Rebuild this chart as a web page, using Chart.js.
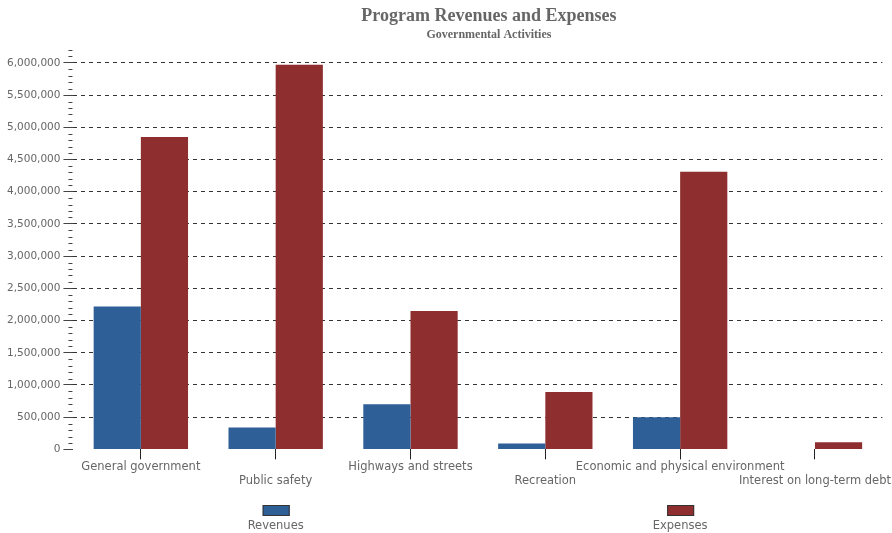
<!DOCTYPE html>
<html>
<head>
<meta charset="utf-8">
<title>Program Revenues and Expenses</title>
<script src="https://cdn.jsdelivr.net/npm/chart.js@4/dist/chart.umd.min.js"></script>
<style>
  html, body { margin: 0; padding: 0; background: #fff; }
  #wrap { width: 892px; height: 533px; }
</style>
</head>
<body>
<div id="wrap"><canvas id="myChart"></canvas></div>
<script>
const categories = [
  "General government",
  "Public safety",
  "Highways and streets",
  "Recreation",
  "Economic and physical environment",
  "Interest on long-term debt"
];
const revenues = [2220000, 340000, 700000, 90000, 500000, 0];
const expenses = [4850000, 5970000, 2150000, 890000, 4310000, 110000];
const seriesNames = ["Revenues", "Expenses"];
const titleText = "Program Revenues and Expenses";
const subtitleText = "Governmental Activities";

const blue = "#2f5f97";
const red = "#8f2e2e";

// odd categories drop to a second row, like the original
const xLabels = categories.map((c, i) => (i % 2 === 1 ? ["", c] : [c]));

const headerAndLegend = {
  id: "headerAndLegend",
  afterDraw(chart) {
    const ctx = chart.ctx;
    const area = chart.chartArea;
    const mid = (area.left + area.right) / 2 + 11;
    ctx.save();
    ctx.fillStyle = "#666";
    ctx.textAlign = "center";
    ctx.textBaseline = "middle";
    ctx.font = "bold 18px 'Liberation Serif', serif";
    ctx.fillText(titleText, mid, 16);
    ctx.font = "bold 12px 'Liberation Serif', serif";
    ctx.fillText(subtitleText, mid, 35);

    // minor ticks on the y axis
    const y = chart.scales.y;
    ctx.strokeStyle = "#444";
    ctx.lineWidth = 1;
    for (let v = 0; v <= y.max; v += 100000) {
      if (v % 500000 === 0) continue;
      const py = Math.round(y.getPixelForValue(v)) + 0.5;
      ctx.beginPath();
      ctx.moveTo(area.left - 5, py);
      ctx.lineTo(area.left - 1, py);
      ctx.stroke();
    }

    // legend: swatch above label, one per half of the plot
    const half = (area.right - area.left) / 2;
    chart.data.datasets.forEach((ds, i) => {
      const cx = area.left + half * i + half / 2;
      ctx.fillStyle = ds.backgroundColor;
      ctx.fillRect(cx - 13, 505, 27, 11);
      ctx.strokeStyle = "#333";
      ctx.strokeRect(cx - 12.5, 505.5, 26, 10);
      ctx.fillStyle = "#666";
      ctx.font = "11.5px 'DejaVu Sans', sans-serif";
      ctx.fillText(ds.label, cx, 526);
    });
    ctx.restore();
  }
};

new Chart(document.getElementById("myChart"), {
  type: "bar",
  data: {
    labels: xLabels,
    datasets: [
      {
        label: seriesNames[0],
        data: revenues,
        backgroundColor: blue,
        borderWidth: 0,
        categoryPercentage: 0.7,
        barPercentage: 1.0
      },
      {
        label: seriesNames[1],
        data: expenses,
        backgroundColor: red,
        borderWidth: 0,
        categoryPercentage: 0.7,
        barPercentage: 1.0
      }
    ]
  },
  options: {
    responsive: true,
    maintainAspectRatio: false,
    animation: false,
    layout: { padding: { top: 50, bottom: 44, left: 4, right: 0 } },
    plugins: {
      legend: { display: false },
      title: { display: false },
      tooltip: { enabled: false }
    },
    scales: {
      x: {
        offset: true,
        grid: {
          offset: false,
          drawOnChartArea: false,
          drawTicks: true,
          tickLength: 10,
          tickColor: "#222"
        },
        border: { display: false },
        ticks: {
          color: "#666",
          font: { family: "'DejaVu Sans', sans-serif", size: 11.5 },
          maxRotation: 0,
          autoSkip: false,
          padding: 1
        }
      },
      y: {
        min: 0,
        max: 6200000,
        border: { display: false, dash: [4, 4] },
        grid: {
          color: (c) => (c.tick && c.tick.value % 500000 === 0 && c.tick.value > 0 ? "#333" : "rgba(0,0,0,0)"),
          tickColor: (c) => (c.tick && c.tick.value % 500000 === 0 ? "#444" : "rgba(0,0,0,0)"),
          tickBorderDash: [],
          tickLength: 10
        },
        ticks: {
          stepSize: 100000,
          autoSkip: false,
          color: "#666",
          padding: 3,
          font: { family: "'DejaVu Sans', sans-serif", size: 10.5 },
          callback: (v) => (v % 500000 === 0 ? v.toLocaleString("en-US") : "")
        }
      }
    }
  },
  plugins: [headerAndLegend]
});
</script>
</body>
</html>
